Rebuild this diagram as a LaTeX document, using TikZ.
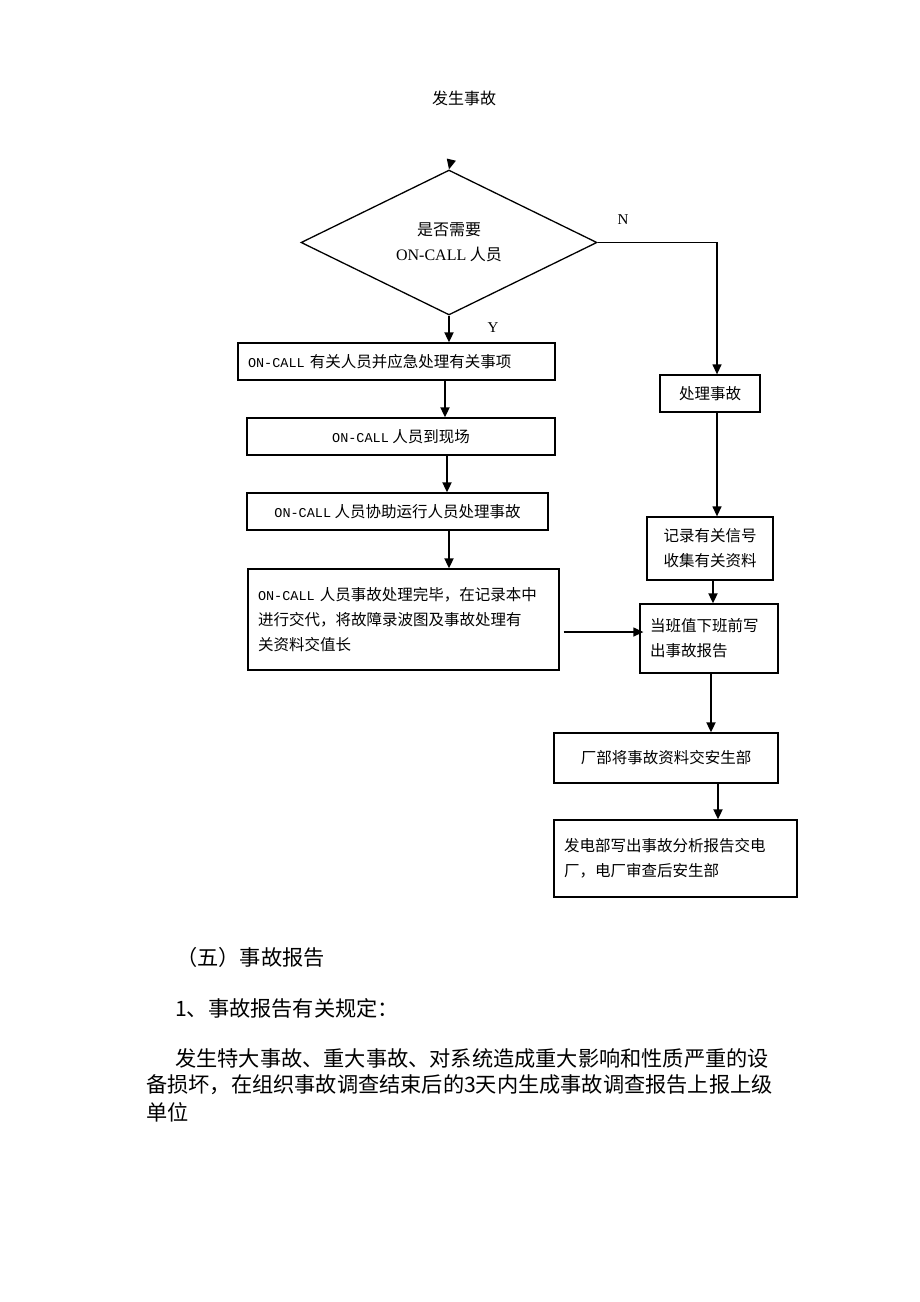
\documentclass[tikz,border=0pt]{standalone}
\usepackage{fontspec}
\setmainfont{Noto Sans CJK SC}
\newfontfamily\lserif{Liberation Serif}
\newfontfamily\lmono{Liberation Mono}
\usetikzlibrary{shapes.geometric,arrows.meta}
\newcommand{\oncallm}{{\lmono\fontsize{13.5}{25}\selectfont ON-CALL}}
\begin{document}
\begin{tikzpicture}[x=1pt,y=-1pt,
  box/.style={draw=black,line width=1.3pt,rectangle,inner sep=0pt,font=\fontsize{15.5}{25}\selectfont},
  lbox/.style={box,align=left,inner xsep=10pt},
  tip/.style={-{Triangle[length=10pt,width=9pt]}},
  arr/.style={line width=1.8pt,tip},
  conn/.style={line width=1.3pt,tip},
  plain/.style={inner sep=0pt,anchor=west,font=\fontsize{21.2}{26}\selectfont}
]
\useasboundingbox (0,0) rectangle (920,1302);
\fill[white] (0,0) rectangle (920,1302);

% title
\node[inner sep=0pt,font=\fontsize{16}{20}\selectfont] (title) at (464,98) {发生事故};

% decision
\node[draw=black,line width=1.3pt,diamond,inner sep=0pt,minimum width=296pt,minimum height=141pt,align=center,font=\fontsize{16}{25}\selectfont] (dia) at (449,242.5) {是否需要\\{\lserif ON-CALL} 人员};
\coordinate (start) at (451,161);
\draw[conn] (start) -- (dia.north);

% left column
\node[lbox,text width=297pt,minimum height=37pt] (b1) at (396.5,361.5) {\oncallm\ 有关人员并应急处理有关事项};
\node[box,minimum width=308pt,minimum height=37pt] (b2) at (401,436.5) {\oncallm\ 人员到现场};
\node[box,minimum width=301pt,minimum height=37pt] (b3) at (397.5,511.5) {\oncallm\ 人员协助运行人员处理事故};
\node[lbox,text width=291pt,minimum height=101pt] (b4) at (403.5,619.5) {\oncallm\ 人员事故处理完毕，在记录本中\\进行交代，将故障录波图及事故处理有\\关资料交值长\\[6pt]};

% right column
\node[box,minimum width=100pt,minimum height=37pt] (cl) at (710,393.5) {处理事故};
\node[box,minimum width=126pt,minimum height=63pt,align=center] (jl) at (710,548.5) {记录有关信号\\收集有关资料};
\node[lbox,text width=118pt,minimum height=69pt] (db) at (709,638.5) {当班值下班前写\\出事故报告\\[2pt]};
\node[box,minimum width=224pt,minimum height=50pt] (cb) at (666,758) {厂部将事故资料交安生部};
\node[lbox,text width=223pt,minimum height=77pt] (fd) at (675.5,858.5) {发电部写出事故分析报告交电\\厂，电厂审查后安生部\\[4pt]};

% labels
\node[inner sep=0pt,font=\lserif\fontsize{15}{18}\selectfont] (nlab) at (623,220) {N};
\node[inner sep=0pt,font=\lserif\fontsize{15}{18}\selectfont] (ylab) at (493,328) {Y};

% connectors
\draw[arr] (dia.south) -- (dia.south |- b1.north);
\draw[arr] ([xshift=48.5pt]b1.south) -- ([xshift=44pt]b2.north);
\draw[arr] ([xshift=46pt]b2.south) -- ([xshift=49.5pt]b3.north);
\draw[arr] ([xshift=51.5pt]b3.south) -- ([xshift=45.5pt]b4.north);
\draw[conn] (dia.east) -| ([xshift=7pt]cl.north);
\draw[conn] ([xshift=7pt]cl.south) -- ([xshift=7pt]jl.north);
\draw[arr] ([xshift=3pt]jl.south) -- ([xshift=4pt]db.north);
\draw[conn] ([xshift=4pt,yshift=-12.5pt]b4.east) -- ([xshift=4pt,yshift=-12.5pt]b4.east -| db.west);
\draw[arr] ([xshift=2pt]db.south) -- ([xshift=45pt]cb.north);
\draw[arr] ([xshift=52pt]cb.south) -- ([xshift=42.5pt]fd.north);

% body text
\node[plain] (h1) at (176,957) {（五）事故报告};
\node[plain] (h2) at (175,1008) {1、事故报告有关规定：};
\node[plain] (p1) at (175,1058) {发生特大事故、重大事故、对系统造成重大影响和性质严重的设};
\node[plain] (p2) at (146,1085) {备损坏，在组织事故调查结束后的3天内生成事故调查报告上报上级};
\node[plain] (p3) at (146,1112) {单位};
\end{tikzpicture}
\end{document}
